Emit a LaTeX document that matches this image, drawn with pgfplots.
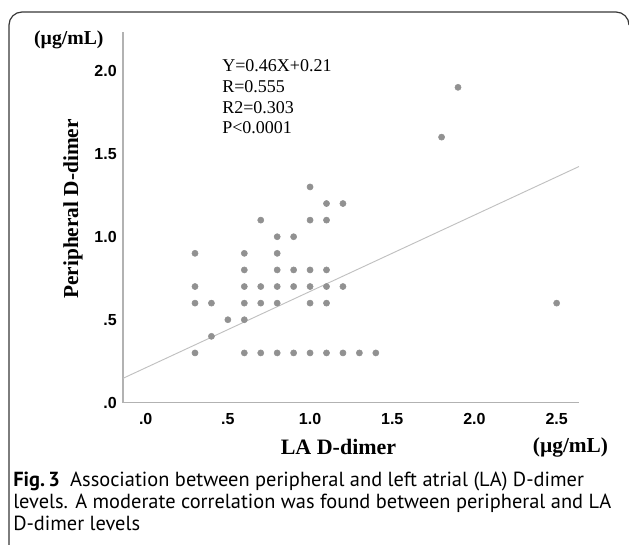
\documentclass[border=0pt]{standalone}
\usepackage{pgfplots}
\pgfplotsset{compat=1.18}
\usepackage{fontspec}
\setmainfont{Liberation Serif}
\setsansfont{Liberation Sans}
\newfontfamily\capfont{PT Sans}

\definecolor{dotgray}{RGB}{145,145,145}
\definecolor{linegray}{RGB}{192,192,192}
\definecolor{axgray}{RGB}{178,178,178}
\definecolor{framegray}{RGB}{55,55,55}

\begin{document}
\begin{tikzpicture}[x=0.75pt,y=0.75pt]
\useasboundingbox (0,0) rectangle (629,553);
% frame
\draw[framegray, line width=0.9pt] (9,8) -- (9,528)
  arc[start angle=180,end angle=90,radius=13] -- (616,541)
  arc[start angle=90,end angle=0,radius=13];

\begin{axis}[
    at={(92.25pt,112.7pt)}, anchor=south west,
    scale only axis, width=342pt, height=278pt,
    xmin=-0.138, xmax=2.636, ymin=0, ymax=2.233,
    axis lines=left,
    axis line style={axgray, line width=0.8pt, -},
    major tick length=0pt,
    xtick={0,0.5,1,1.5,2,2.5},
    xticklabels={.0,.5,1.0,1.5,2.0,2.5},
    ytick={0,0.5,1,1.5,2},
    yticklabels={.0,.5,1.0,1.5,2.0},
    tick label style={font=\sffamily\bfseries\fontsize{12}{14}\selectfont, inner sep=0pt},
    xticklabel style={anchor=north, yshift=-7.5pt},
    yticklabel style={anchor=east, xshift=-4.5pt},
    clip=false,
]
\addplot[linegray, line width=0.7pt] coordinates {(-0.138,0.147) (2.636,1.423)};
\addplot[only marks, mark=*, mark size=2.3pt,
    mark options={draw=dotgray, fill=dotgray}] coordinates {
    (1.0,1.3)
    (1.1,1.2) (1.2,1.2)
    (0.7,1.1) (1.0,1.1) (1.1,1.1)
    (0.8,1.0) (0.9,1.0)
    (0.3,0.9) (0.6,0.9) (0.8,0.9)
    (0.6,0.8) (0.8,0.8) (0.9,0.8) (1.0,0.8) (1.1,0.8)
    (0.3,0.7) (0.6,0.7) (0.7,0.7) (0.8,0.7) (0.9,0.7) (1.0,0.7) (1.1,0.7) (1.2,0.7)
    (0.3,0.6) (0.4,0.6) (0.6,0.6) (0.7,0.6) (0.8,0.6) (1.0,0.6) (1.1,0.6)
    (0.5,0.5) (0.6,0.5)
    (0.4,0.4)
    (0.3,0.3) (0.6,0.3) (0.7,0.3) (0.8,0.3) (0.9,0.3) (1.0,0.3) (1.1,0.3) (1.2,0.3) (1.3,0.3) (1.4,0.3)
    (1.8,1.6) (1.9,1.9) (2.5,0.6)
};
\end{axis}

% regression annotation
\begin{scope}[every node/.style={anchor=base west, inner sep=0pt, font=\fontsize{13.5}{15.5}\selectfont}]
\node at (222,481.3) {Y=0.46X+0.21};
\node at (222,460.7) {R=0.555};
\node at (222,439.7) {R2=0.303};
\node at (222,419.7) {P<0.0001};
\end{scope}

% axis titles and units
\node[rotate=90, anchor=base, inner sep=0pt, font=\bfseries\fontsize{16}{20}\selectfont] at (78,344) {Peripheral D-dimer};
\node[anchor=base, inner sep=0pt, font=\bfseries\fontsize{16.5}{20}\selectfont] at (338.5,98) {LA D-dimer};
\node[anchor=base, inner sep=0pt, font=\bfseries\fontsize{16}{20}\selectfont] at (570.5,100) {(µg/mL)};
\node[anchor=base, inner sep=0pt, font=\bfseries\fontsize{14.8}{18}\selectfont] at (68.8,508.5) {(µg/mL)};

% caption
\begin{scope}[every node/.style={anchor=base west, inner sep=0pt, font=\capfont\fontsize{15.3}{18}\selectfont}]
\node at (13,66.3) {\textbf{Fig.\,3}\enspace Association between peripheral and left atrial (LA) D-dimer};
\node at (13,44) {levels. A moderate correlation was found between peripheral and LA};
\node at (13,22) {D-dimer levels};
\end{scope}
\end{tikzpicture}
\end{document}
